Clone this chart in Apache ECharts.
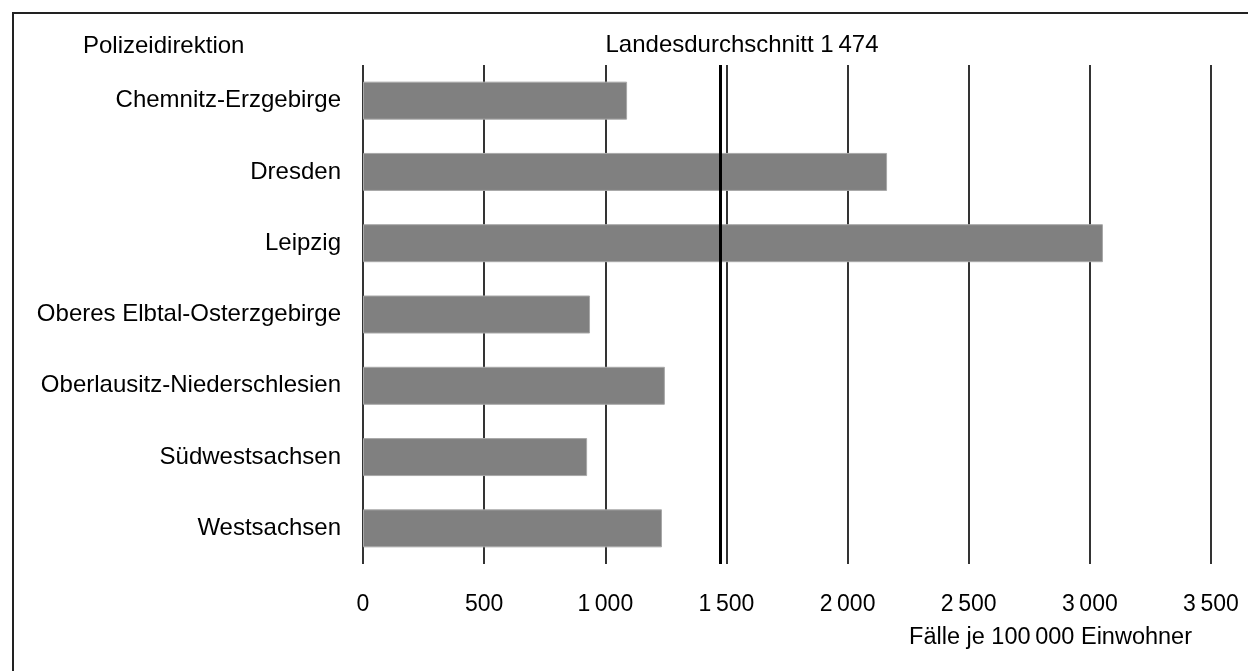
<!DOCTYPE html>
<html>
<head>
<meta charset="utf-8">
<script src="https://cdn.jsdelivr.net/npm/echarts@6/dist/echarts.min.js"></script>
<style>html,body{margin:0;padding:0;background:#fff}#c{width:1248px;height:671px}</style>
</head>
<body>
<div id="c"></div>
<script>
const categories = ['Chemnitz-Erzgebirge','Dresden','Leipzig','Oberes Elbtal-Osterzgebirge','Oberlausitz-Niederschlesien','Südwestsachsen','Westsachsen'];
const values = [1090, 2163, 3054, 937, 1246, 925, 1234];
const average = 1474;
const xTicks = [0, 500, 1000, 1500, 2000, 2500, 3000, 3500];
const FONT = '"Liberation Sans", Arial, sans-serif';

function fmt(v){ return String(v).replace(/\B(?=(\d{3})+(?!\d))/g, '\u2009'); }

const chart = echarts.init(document.getElementById('c'));
chart.setOption({
  animation: false,
  grid: { left: 363, right: 37, top: 65, bottom: 107 },
  xAxis: {
    type: 'value', min: 0, max: 3500, interval: 500,
    axisLine: { show: false }, axisTick: { show: false },
    splitLine: { show: true, lineStyle: { color: '#000', width: 1.6 } },
    axisLabel: { color: '#000', fontSize: 23, fontFamily: FONT, margin: 29, formatter: v => fmt(v) }
  },
  yAxis: {
    type: 'category', data: categories, inverse: true,
    axisLine: { show: false }, axisTick: { show: false },
    axisLabel: { color: '#000', fontSize: 24, fontFamily: FONT, margin: 22 }
  },
  series: [{
    type: 'bar', data: values, barWidth: 38,
    itemStyle: { color: '#808080', borderColor: '#a8a8a8', borderWidth: 1 },
    markLine: {
      silent: true, symbol: 'none', label: { show: false },
      lineStyle: { color: '#000', width: 3, type: 'solid' },
      data: [{ xAxis: average }]
    }
  }],
  graphic: [
    { type: 'rect', shape: { x: 13, y: 13, width: 1300, height: 700 }, style: { fill: 'none', stroke: '#222', lineWidth: 2 } },
    { type: 'text', x: 83, y: 46, style: { text: 'Polizeidirektion', font: '24px ' + FONT, fill: '#000', align: 'left', verticalAlign: 'middle' } },
    { type: 'text', x: 742, y: 45, style: { text: 'Landesdurchschnitt 1\u2009' + '474', font: '24px ' + FONT, fill: '#000', align: 'center', verticalAlign: 'middle' } },
    { type: 'text', x: 1192, y: 638, style: { text: 'Fälle je 100\u2009000 Einwohner', font: '23.5px ' + FONT, fill: '#000', align: 'right', verticalAlign: 'middle' } }
  ]
});
</script>
</body>
</html>
